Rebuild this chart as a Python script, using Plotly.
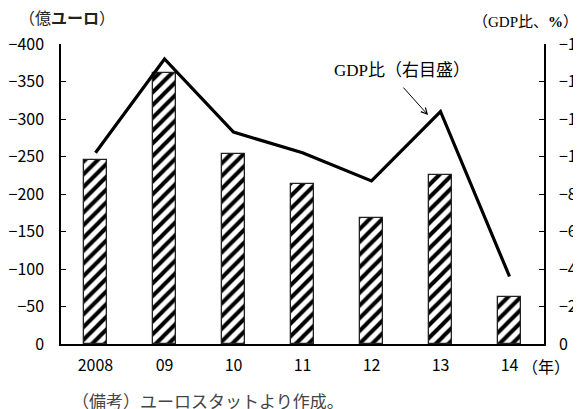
import plotly.graph_objects as go

years = ["2008", "09", "10", "11", "12", "13", "14"]
deficit = [-246, -361, -253, -213, -168, -225, -63]          # 億ユーロ
gdp_ratio = [-10.2, -15.2, -11.3, -10.2, -8.7, -12.4, -3.6]  # GDP比 %

left_ticks = [0, -50, -100, -150, -200, -250, -300, -350, -400]
right_ticks = [0, -2, -4, -6, -8, -10, -12, -14, -16]

def lab(v):
    return str(v).replace("-", "−")

FONT = "Noto Sans CJK JP, Noto Sans, sans-serif"
SERIF = "Liberation Serif, Noto Sans CJK JP, serif"

fig = go.Figure()
fig.add_trace(go.Bar(
    x=years, y=deficit, width=0.33,
    marker=dict(color="white", line=dict(color="#222", width=1.3),
                pattern=dict(shape="/", fgcolor="black", bgcolor="white",
                             fgopacity=1, size=9, solidity=0.45)),
    yaxis="y", showlegend=False,
))
fig.add_trace(go.Scatter(
    x=years, y=gdp_ratio, mode="lines",
    line=dict(color="black", width=3.2),
    yaxis="y2", showlegend=False,
))

def ann(text, x, y, **kw):
    d = dict(text=text, xref="paper", yref="paper", x=x, y=y,
             xanchor="center", yanchor="middle", showarrow=False)
    d.update(kw)
    return d

fig.update_layout(
    width=573, height=401,
    margin=dict(l=53, r=37, t=36, b=65, autoexpand=False),
    paper_bgcolor="white", plot_bgcolor="white",
    font=dict(family=FONT, size=16, color="black"),
    bargap=0,
    xaxis=dict(showline=True, linecolor="black", linewidth=1.5, ticks="",
               showgrid=False, ticklabelstandoff=6, automargin=False,
               tickfont=dict(size=16)),
    yaxis=dict(range=[0, -400], tickvals=left_ticks,
               ticktext=[lab(v) for v in left_ticks],
               showline=True, linecolor="black", linewidth=1.5,
               ticks="inside", ticklen=5, tickcolor="black", automargin=False,
               showgrid=False, zeroline=False, ticklabelstandoff=12),
    yaxis2=dict(range=[0, -16], tickvals=right_ticks,
                ticktext=[lab(v) for v in right_ticks],
                overlaying="y", side="right", automargin=False,
                showline=True, linecolor="black", linewidth=1.5,
                ticks="inside", ticklen=5, tickcolor="black",
                showgrid=False, zeroline=False, ticklabelstandoff=10),
    annotations=[
        ann("（億<b>ユーロ</b>）", 0.013, 1.09, font=dict(size=16, color="#222")),
        ann("（GDP比、<b>%</b>）", 0.962, 1.073, font=dict(family=SERIF, size=15)),
        ann("GDP比（右目盛）", 0.706, 0.913, font=dict(family=SERIF, size=17)),
        dict(text="", xref="paper", yref="paper", x=0.760, y=0.763,
             ax=-26, ay=-29, showarrow=True, arrowhead=5, arrowsize=1.2,
             arrowwidth=1, arrowcolor="black"),
        ann("（年）", 1.004, -0.073, font=dict(size=16)),
        ann("（備考）ユーロスタットより作成。", 0.018, -0.187, xanchor="left",
            font=dict(size=17, color="#444")),
    ],
)

fig.write_html("out.html")
